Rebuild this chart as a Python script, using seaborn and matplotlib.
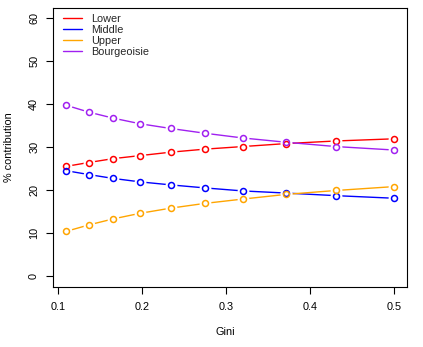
import pandas as pd
import matplotlib.pyplot as plt
import seaborn as sns

sns.set_theme(style='white')
plt.rcParams['font.family'] = ['Liberation Sans', 'DejaVu Sans']

# Data
gini = [0.11, 0.137, 0.166, 0.198, 0.2345, 0.275, 0.32, 0.372, 0.431, 0.5]
lower = [25.5, 26.4, 27.3, 28.0, 28.8, 29.5, 30.1, 30.8, 31.4, 31.9]
middle = [24.5, 23.6, 22.7, 21.9, 21.2, 20.5, 19.8, 19.3, 18.7, 18.1]
upper = [10.4, 11.9, 13.3, 14.6, 15.8, 16.9, 17.9, 19.0, 19.9, 20.8]
bourgeoisie = [39.7, 38.1, 36.7, 35.4, 34.3, 33.2, 32.1, 31.1, 30.1, 29.3]

classes = ['Lower', 'Middle', 'Upper', 'Bourgeoisie']
colors = ['#FF0000', '#0000FF', '#FFA500', '#A020F0']
x_ticks = [0.1, 0.2, 0.3, 0.4, 0.5]
y_ticks = [0, 10, 20, 30, 40, 50, 60]

df = pd.DataFrame({'gini': gini * 4,
                   'value': lower + middle + upper + bourgeoisie,
                   'class': [c for c in classes for _ in gini]})
palette = dict(zip(classes, colors))
fs = 7.8

fig = plt.figure(figsize=(4.23, 3.47), dpi=100)
ax = fig.add_axes([53 / 423, 1 - 286.5 / 347, 354 / 423, 279 / 347])

sns.lineplot(data=df, x='gini', y='value', hue='class', hue_order=classes,
             palette=palette, linewidth=1.0, ax=ax)

# R type="b": gaps around the points, then open circles
for c in classes:
    d = df[df['class'] == c]
    ax.plot(d['gini'], d['value'], ls='none', marker='o', ms=7.5,
            mfc='white', mec='white', zorder=3)
for c in classes:
    d = df[df['class'] == c]
    ax.plot(d['gini'], d['value'], ls='none', marker='o', ms=4.3,
            mfc='none', mec=palette[c], mew=1.1, zorder=4)

ax.set_xlim(0.0944, 0.5156)
ax.set_ylim(-2.4, 62.4)
ax.set_xticks(x_ticks)
ax.set_xticklabels([str(t) for t in x_ticks])
ax.set_yticks(y_ticks)
ax.set_yticklabels([str(t) for t in y_ticks], rotation=90, va='center')
ax.tick_params(axis='both', direction='out', length=5, width=0.8,
               color='black', labelsize=fs, labelcolor='black',
               bottom=True, left=True)
ax.tick_params(axis='x', pad=6)
ax.tick_params(axis='y', pad=5)
for s in ax.spines.values():
    s.set_color('black')
    s.set_linewidth(0.8)

ax.set_xlabel('')
ax.set_ylabel('')
fig.text(225 / 423, 1 - 331.7 / 347, 'Gini', ha='center', va='center',
         fontsize=fs, color='black')
fig.text(9 / 423, 1 - 147 / 347, '% contribution', ha='center', va='center',
         rotation=90, fontsize=fs, color='black')

leg = ax.legend(loc='upper left', bbox_to_anchor=(63 / 423, 1 - 14 / 347),
                bbox_transform=fig.transFigure, frameon=False, fontsize=fs,
                handlelength=1.75, handletextpad=0.8, labelspacing=0.1,
                borderpad=0, borderaxespad=0)
for line in leg.get_lines():
    line.set_linewidth(1.0)

fig.savefig('out.png', dpi=100)
